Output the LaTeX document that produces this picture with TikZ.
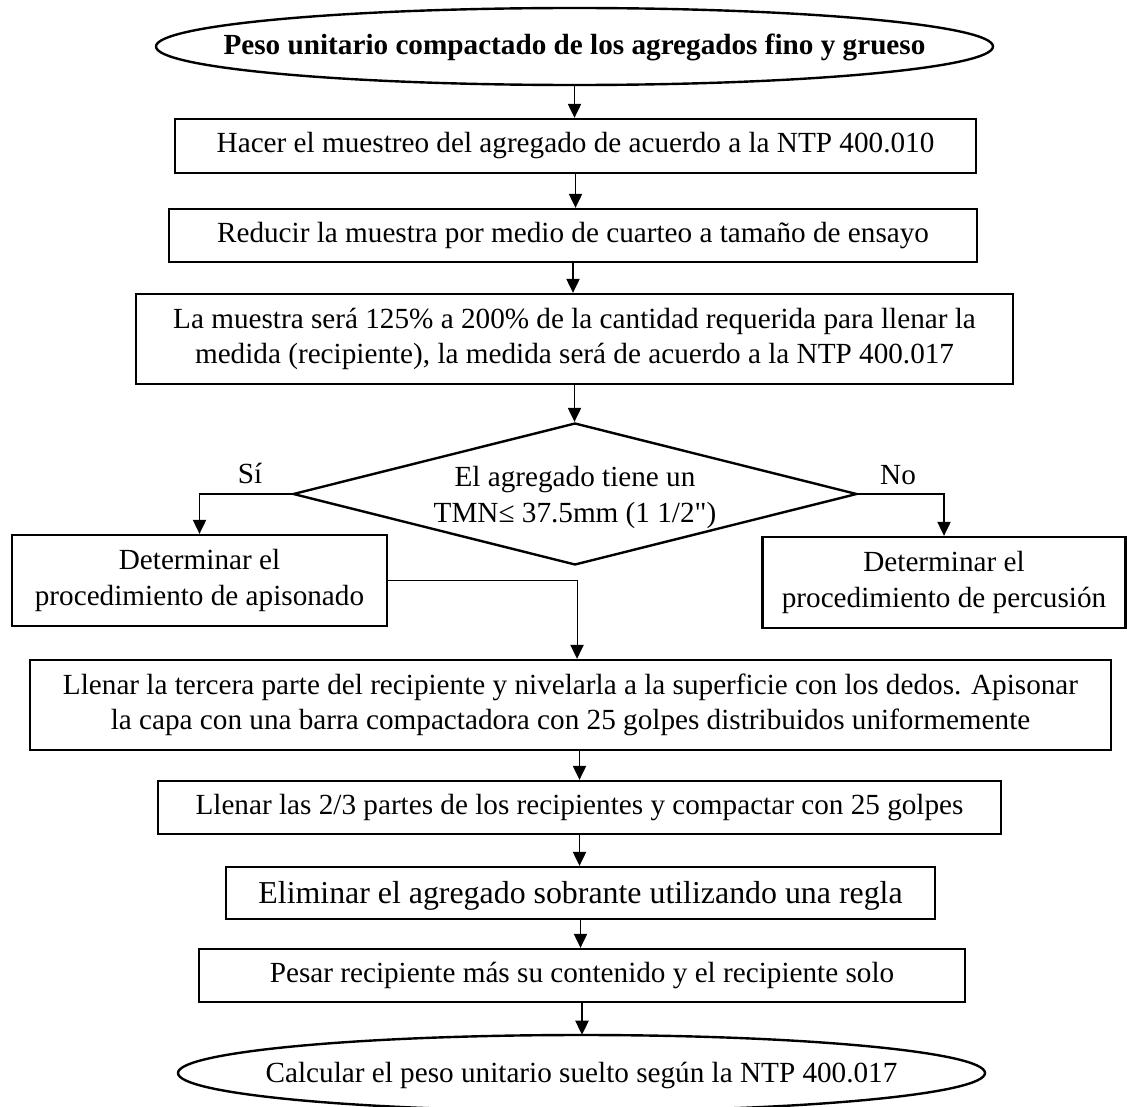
\documentclass[tikz,border=0pt]{standalone}
\usepackage{fontspec}
\setmainfont{Liberation Serif}[Ligatures=TeXOff]
\usetikzlibrary{arrows.meta,shapes.geometric}
\begin{document}
\begin{tikzpicture}[x=0.75pt,y=-0.75pt,
  every node/.style={font=\fontsize{21.9}{26.3}\selectfont},
  box/.style={draw, line width=1.8pt, rectangle, inner sep=0pt, align=center},
  termarea/.style={rectangle, inner sep=0pt},
  termline/.style={line width=1.8pt},
  decision/.style={draw, line width=1.8pt, diamond, inner sep=0pt},
  txt/.style={inner sep=0pt, align=center},
  link/.style={line width=0.8pt, -{Triangle[length=10.5pt,width=10pt]}},
  plain/.style={line width=0.8pt}]
\useasboundingbox (0,0) rectangle (1127,1106);

% start terminal
\node[termarea, minimum width=627.75pt, minimum height=57.75pt] (e1) at (574.5,46.5) {};
\draw[termline] (e1.center) ellipse [x radius=418.5, y radius=38.5];
\node[txt, font=\fontsize{21.9}{26.3}\selectfont\bfseries] (e1t) at (574.5,47.5)
  {Peso unitario compactado de los agregados fino y grueso};

% sampling and preparation steps
\node[box, minimum width=600.75pt, minimum height=40.5pt] (b1) at (575.5,146)
  {Hacer el muestreo del agregado de acuerdo a la NTP 400.010};
\node[box, minimum width=606pt, minimum height=39.75pt] (b2) at (573,235.5)
  {Reducir la muestra por medio de cuarteo a tamaño de ensayo};
\node[box, minimum width=657.75pt, minimum height=67.5pt] (b3) at (574.5,339)
  {La muestra será 125\% a 200\% de la cantidad requerida para llenar la\\
   medida (recipiente), la medida será de acuerdo a la NTP 400.017};

% decision on the nominal maximum size
\node[decision, minimum width=423pt, minimum height=106.5pt] (dia) at (575,494) {};
\node[txt] (diat) at (575,497.5) {El agregado tiene un\\TMN≤ 37.5mm (1 1/2")};
\node[txt] (si) at (250,473) {Sí};
\node[txt] (no) at (898,475) {No};

\node[box, minimum width=281.25pt, minimum height=68.25pt] (lb) at (199.5,580.5)
  {Determinar el\\procedimiento de apisonado};
\node[box, minimum width=272.25pt, minimum height=68.25pt] (rb) at (944,582.5)
  {Determinar el\\procedimiento de percusión};

% rodding procedure
\node[box, minimum width=810.75pt, minimum height=67.5pt] (b4) at (570.5,705)
  {Llenar la tercera parte del recipiente y nivelarla a la superficie con los dedos. Apisonar\\
   la capa con una barra compactadora con 25 golpes distribuidos uniformemente};
\node[box, minimum width=632.25pt, minimum height=39.75pt] (b5) at (579.5,807.5)
  {Llenar las 2/3 partes de los recipientes y compactar con 25 golpes};
\node[box, minimum width=531.75pt, minimum height=39pt] (b6) at (580.5,893) {};
\node[txt, font=\fontsize{23.9}{28}\selectfont] (b6t) at (580.5,896)
  {Eliminar el agregado sobrante utilizando una regla};
\node[box, minimum width=574.5pt, minimum height=39.75pt] (b7) at (582,975.5)
  {Pesar recipiente más su contenido y el recipiente solo};

% end terminal
\node[termarea, minimum width=605.25pt, minimum height=57pt] (e2) at (581.5,1073) {};
\draw[termline] (e2.center) ellipse [x radius=403.5, y radius=38];
\node[txt] (e2t) at (581.5,1075)
  {Calcular el peso unitario suelto según la NTP 400.017};

% connectors
\draw[link] (e1.south) -- (e1.south |- b1.north);
\draw[link] (b1.south) -- (b1.south |- b2.north);
\draw[link] (b2.south) -- (b2.south |- b3.north);
\draw[link] (b3.south) -- (b3.south |- dia.north);
\draw[link] (dia.west) -| (lb.north);
\draw[link] (dia.east) -| (rb.north);
\draw[link] (lb.east) -| ([xshift=4.9pt]b4.north);
\draw[link] (b5.north |- b4.south) -- (b5.north);
\draw[link] (b5.south) -- (b5.south |- b6.north);
\draw[link] (b6.south) -- (b6.south |- b7.north);
\draw[link] (b7.south) -- (b7.south |- e2.north);
\end{tikzpicture}
\end{document}
